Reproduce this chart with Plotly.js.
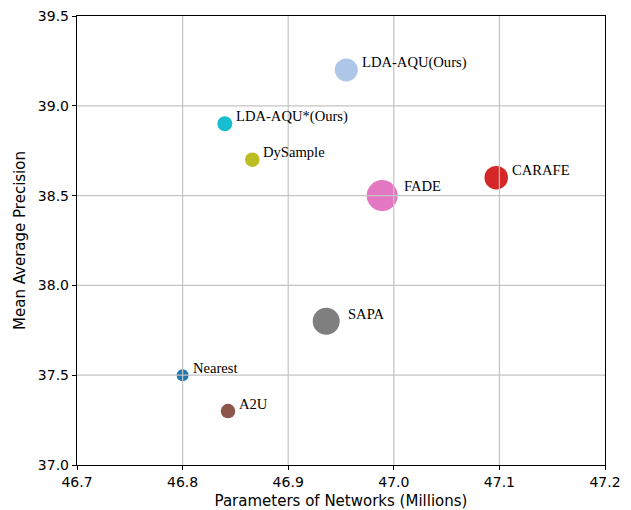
<!DOCTYPE html>
<html>
<head>
<meta charset="utf-8">
<script src="https://cdn.plot.ly/plotly-3.0.1.min.js"></script>
<style>html,body{margin:0;padding:0;background:#fff;}#chart{width:631px;height:510px;}</style>
</head>
<body>
<div id="chart"></div>
<script>
const methods = ["Nearest", "A2U", "SAPA", "FADE", "CARAFE", "DySample", "LDA-AQU*(Ours)", "LDA-AQU(Ours)"];
const params = [46.800, 46.843, 46.936, 46.989, 47.097, 46.866, 46.840, 46.955];
const mAP = [37.5, 37.3, 37.8, 38.5, 38.6, 38.7, 38.9, 39.2];
const markerSizes = [12, 14.5, 27, 31, 23.5, 14.5, 15, 23];
const colors = ["#1f77b4", "#8c564b", "#7f7f7f", "#e377c2", "#d62728", "#bcbd22", "#17becf", "#aec7e8"];
const labelDx = [8.5, 8.5, 19.5, 19.5, 13.5, 9, 9, 14];
const labelDy = [7.5, 7.5, 7.5, 9.5, 7.5, 7.5, 7, 7];
const xTicks = [46.7, 46.8, 46.9, 47.0, 47.1, 47.2];
const yTicks = [37.0, 37.5, 38.0, 38.5, 39.0, 39.5];

const traces = methods.map((m, i) => ({
  type: "scatter", mode: "markers",
  x: [params[i]], y: [mAP[i]], name: m,
  marker: {size: markerSizes[i], color: colors[i], line: {width: 0}},
  hoverinfo: "name"
}));

const annotations = methods.map((m, i) => ({
  x: params[i], y: mAP[i], xref: "x", yref: "y",
  text: m, showarrow: false, xanchor: "left", yanchor: "middle",
  xshift: labelDx[i], yshift: labelDy[i],
  font: {family: "Liberation Serif, Times New Roman, serif", size: 14.6, color: "#000"}
}));

const gridColor = "#c4c4c4";
const shapes = [];
xTicks.slice(1, -1).forEach(v => shapes.push({type: "line", xref: "x", yref: "paper", x0: v, x1: v, y0: 0, y1: 1, layer: "above", line: {color: gridColor, width: 1.2}}));
yTicks.slice(1, -1).forEach(v => shapes.push({type: "line", xref: "paper", yref: "y", x0: 0, x1: 1, y0: v, y1: v, layer: "above", line: {color: gridColor, width: 1.2}}));

const axisFont = {family: "DejaVu Sans, sans-serif", size: 14, color: "#000"};
const titleFont = {family: "DejaVu Sans, sans-serif", size: 15, color: "#000"};
const layout = {
  width: 631, height: 510,
  margin: {l: 77, r: 26, t: 16, b: 45},
  paper_bgcolor: "#fff", plot_bgcolor: "#fff",
  showlegend: false,
  font: axisFont,
  xaxis: {
    range: [46.7, 47.2], tickvals: xTicks, ticktext: xTicks.map(v => v.toFixed(1)),
    showgrid: false, zeroline: false, showline: true, mirror: true,
    linecolor: "#000", linewidth: 1.2, ticks: "outside", ticklen: 4, tickcolor: "#000", tickwidth: 1,
    tickfont: axisFont,
    title: {text: "Parameters of Networks (Millions)", font: titleFont, standoff: 6}
  },
  yaxis: {
    range: [37.0, 39.5], tickvals: yTicks, ticktext: yTicks.map(v => v.toFixed(1)),
    showgrid: false, zeroline: false, showline: true, mirror: true,
    linecolor: "#000", linewidth: 1.2, ticks: "outside", ticklen: 4, tickcolor: "#000", tickwidth: 1,
    tickfont: axisFont,
    title: {text: "Mean Average Precision", font: titleFont, standoff: 8}
  },
  shapes: shapes,
  annotations: annotations
};

Plotly.newPlot("chart", traces, layout, {displayModeBar: false, staticPlot: true});
</script>
</body>
</html>
